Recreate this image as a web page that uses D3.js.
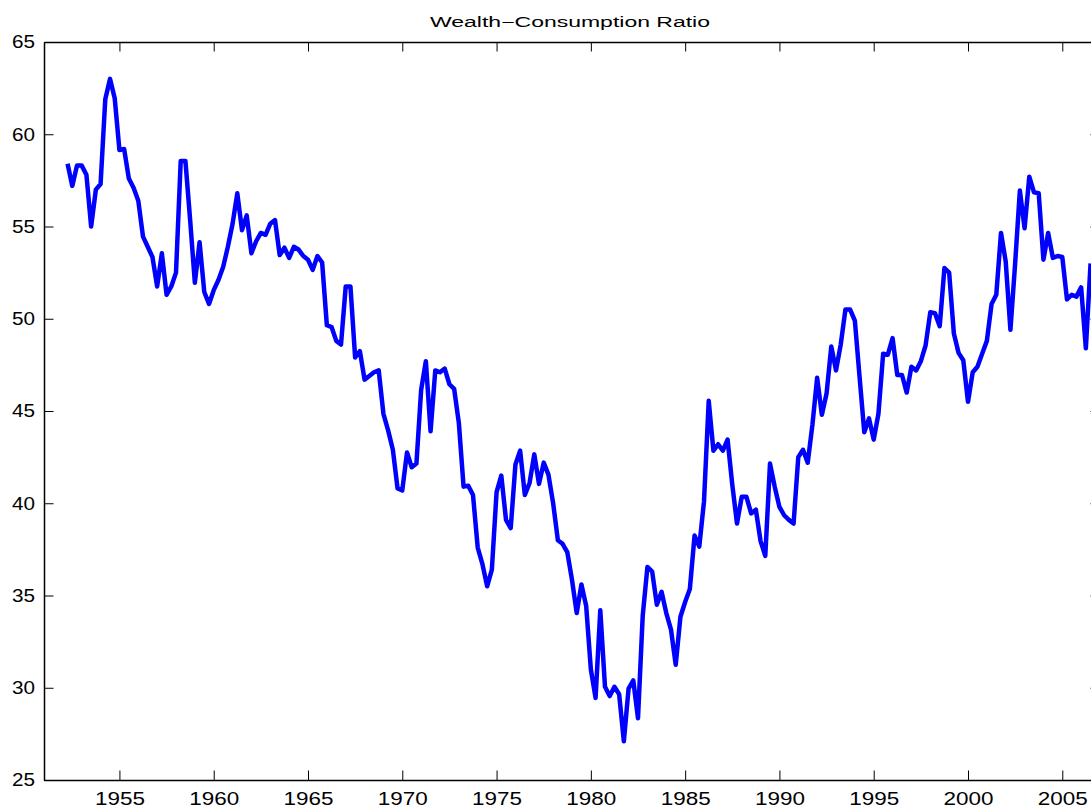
<!DOCTYPE html>
<html>
<head>
<meta charset="utf-8">
<script src="https://cdn.jsdelivr.net/npm/d3@7"></script>
<style>
  body { margin: 0; background: #fff; }
  svg { display: block; }
  .axis text { font-family: "Liberation Sans", Arial, Helvetica, sans-serif; font-size: 18.6px; fill: #000; }
  .axis path, .axis line { stroke: #000; }
  .title { font-family: "Liberation Sans", Arial, Helvetica, sans-serif; font-size: 14px; fill: #000; }
</style>
</head>
<body>
<svg id="chart" width="1091" height="811"></svg>
<script>
// quarterly series, first value is 1952.25
const startYear = 1952.25;
const wcRatio = [
  58.4, 57.2, 58.3,
  58.3, 57.8, 55.0, 57.0,
  57.3, 61.9, 63.0, 61.95,
  59.15, 59.2, 57.6, 57.1,
  56.4, 54.45, 53.9, 53.35,
  51.75, 53.55, 51.3, 51.75,
  52.5, 58.55, 58.55, 55.35,
  51.95, 54.15, 51.45, 50.8,
  51.55, 52.1, 52.8, 53.9,
  55.15, 56.8, 54.8, 55.6,
  53.55, 54.2, 54.65, 54.55,
  55.15, 55.35, 53.45, 53.85,
  53.3, 53.9, 53.75, 53.4,
  53.2, 52.65, 53.4, 53.05,
  49.65, 49.55, 48.8, 48.6,
  51.75, 51.75, 47.9, 48.25,
  46.7, 46.9, 47.1, 47.2,
  44.85, 43.95, 42.9, 40.8,
  40.7, 42.75, 41.95, 42.15,
  46.15, 47.7, 43.9, 47.2,
  47.1, 47.3, 46.45, 46.2,
  44.35, 40.9, 40.95, 40.45,
  37.6, 36.7, 35.5, 36.4,
  40.6, 41.5, 39.1, 38.65,
  42.1, 42.85, 40.45, 41.1,
  42.65, 41.05, 42.2, 41.55,
  40.0, 38.0, 37.8, 37.35,
  35.85, 34.05, 35.6, 34.45,
  31.0, 29.45, 34.2, 30.05,
  29.55, 30.05, 29.65, 27.1,
  29.95, 30.4, 28.35, 33.9,
  36.55, 36.3, 34.5, 35.2,
  34.05, 33.15, 31.25, 33.85,
  34.65, 35.35, 38.25, 37.65,
  40.1, 45.55, 42.85, 43.2,
  42.85, 43.45, 41.0, 38.9,
  40.35, 40.35, 39.45, 39.65,
  37.95, 37.15, 42.15, 40.9,
  39.8, 39.35, 39.1, 38.9,
  42.5, 42.9, 42.2, 44.25,
  46.8, 44.8, 45.95, 48.5,
  47.2, 48.6, 50.5, 50.5,
  49.9, 46.85, 43.85, 44.6,
  43.45, 44.85, 48.1, 48.05,
  48.95, 46.95, 46.95, 46.0,
  47.4, 47.2, 47.7, 48.55,
  50.35, 50.3, 49.6, 52.75,
  52.5, 49.2, 48.15, 47.75,
  45.5, 47.1, 47.4, 48.1,
  48.8, 50.8, 51.3, 54.65,
  53.1, 49.4, 53.0, 56.95,
  54.9, 57.7, 56.85, 56.8,
  53.2, 54.65, 53.3, 53.4,
  53.35, 51.05, 51.3, 51.2,
  51.7, 48.4, 53.0
];
const xTicks = [1955, 1960, 1965, 1970, 1975, 1980, 1985, 1990, 1995, 2000, 2005];
const yTicks = [25, 30, 35, 40, 45, 50, 55, 60, 65];

const svg = d3.select("#chart");
const box = { left: 44, right: 1100, top: 42, bottom: 780 };

const x = d3.scaleLinear().domain([1951, 2007]).range([box.left, box.right]);
const y = d3.scaleLinear().domain([25, 65]).range([box.bottom, box.top]);

const data = wcRatio.map((v, i) => ({ t: startYear + i / 4, v: v }));

// axes, ticks pointing inward like matlab
svg.append("g").attr("class", "axis")
  .attr("transform", `translate(0,${box.bottom})`)
  .call(d3.axisBottom(x).tickValues(xTicks).tickFormat(d3.format("d"))
    .tickSizeInner(-9.5).tickSizeOuter(0).tickPadding(11.8))
  .selectAll("text").attr("textLength", 50).attr("lengthAdjust", "spacingAndGlyphs");

svg.append("g").attr("class", "axis")
  .attr("transform", `translate(0,${box.top})`)
  .call(d3.axisTop(x).tickValues(xTicks).tickFormat("")
    .tickSizeInner(-9.5).tickSizeOuter(0));

svg.append("g").attr("class", "axis")
  .attr("transform", `translate(${box.left},0)`)
  .call(d3.axisLeft(y).tickValues(yTicks).tickFormat(d3.format("d"))
    .tickSizeInner(-9.5).tickSizeOuter(0).tickPadding(9))
  .selectAll("text").attr("textLength", 23).attr("lengthAdjust", "spacingAndGlyphs");

svg.append("g").attr("class", "axis")
  .attr("transform", `translate(${box.right},0)`)
  .call(d3.axisRight(y).tickValues(yTicks).tickFormat("")
    .tickSizeInner(-9.5).tickSizeOuter(0));

svg.selectAll(".axis .domain").attr("stroke-width", 1.5);

const line = d3.line().x(d => x(d.t)).y(d => y(d.v));

svg.append("path")
  .datum(data)
  .attr("d", line)
  .attr("fill", "none")
  .attr("stroke", "#0000ff")
  .attr("stroke-width", 4.5)
  .attr("stroke-linejoin", "round");

svg.append("text")
  .attr("class", "title")
  .attr("x", (box.left + box.right) / 2 - 2)
  .attr("y", 27)
  .attr("text-anchor", "middle")
  .attr("textLength", 280)
  .attr("lengthAdjust", "spacingAndGlyphs")
  .text("Wealth\u2212Consumption Ratio");
</script>
</body>
</html>
